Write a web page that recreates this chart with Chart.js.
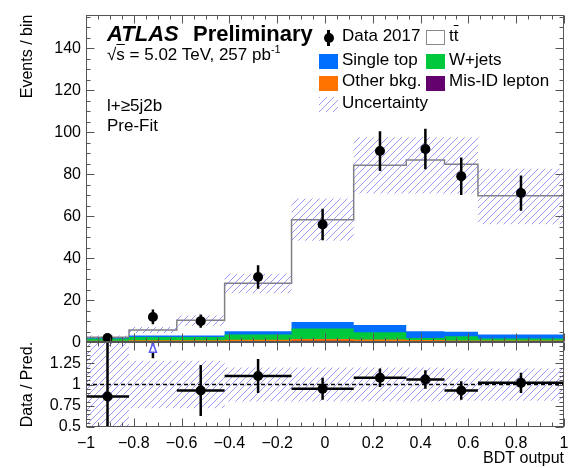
<!DOCTYPE html>
<html>
<head>
<meta charset="utf-8">
<script src="https://cdn.jsdelivr.net/npm/chart.js@4.4.1/dist/chart.umd.min.js"></script>
<style>
body { margin: 0; background: #fff; }
#wrap { position: relative; width: 569px; height: 468px; font-family: "Liberation Sans", Arial, sans-serif; color: #000; }
#wrap canvas { position: absolute; left: 0; top: 0; }
.t { position: absolute; white-space: nowrap; line-height: 1; font-size: 17px; }
.box { position: absolute; width: 19px; height: 15px; box-sizing: border-box; }
sup { font-size: 11px; line-height: 0; vertical-align: 7px; }
</style>
</head>
<body>
<div id="wrap">
  <canvas id="chart" width="569" height="468"></canvas>

  <div class="t" style="left:107px;top:23px;font-size:22px;font-weight:bold;font-style:italic;">ATLAS</div>
  <div class="t" style="left:193px;top:23px;font-size:22px;font-weight:bold;">Preliminary</div>
  <div class="t" style="left:107px;top:45.6px;">√<span style="text-decoration:overline">s</span> = 5.02 TeV, 257 pb<sup>-1</sup></div>
  <div class="t" style="left:107px;top:96.6px;">l+≥5j2b</div>
  <div class="t" style="left:107px;top:116.6px;">Pre-Fit</div>

  <!-- legend -->
  <div style="position:absolute;left:327px;top:30px;width:2.5px;height:16px;background:#000;"></div>
  <div style="position:absolute;left:323.5px;top:33px;width:10px;height:10px;border-radius:5px;background:#000;"></div>
  <div class="t" style="left:342px;top:27.3px;">Data 2017</div>
  <div class="box" style="left:426px;top:29.5px;border:1px solid #888;background:#fff;"></div>
  <div class="t" style="left:449px;top:27.3px;">t<span style="text-decoration:overline">t</span></div>

  <div class="box" style="left:319px;top:54px;background:#006eff;"></div>
  <div class="t" style="left:342px;top:50.6px;">Single top</div>
  <div class="box" style="left:426px;top:54px;background:#00c83c;"></div>
  <div class="t" style="left:449px;top:50.6px;">W+jets</div>

  <div class="box" style="left:319px;top:75.5px;background:#ff7300;"></div>
  <div class="t" style="left:342px;top:72.3px;">Other bkg.</div>
  <div class="box" style="left:426px;top:75.5px;background:#64006e;"></div>
  <div class="t" style="left:449px;top:72.3px;">Mis-ID lepton</div>

  <div class="box" style="left:319px;top:97px;background:repeating-linear-gradient(135deg, rgba(120,120,240,0.75) 0 1px, transparent 1px 5px);"></div>
  <div class="t" style="left:342px;top:93.6px;">Uncertainty</div>
</div>

<script>
// bin edges and centres of the BDT output
const edges = [-1, -0.82, -0.62, -0.42, -0.14, 0.12, 0.34, 0.50, 0.64, 1];
const centers = [-0.91, -0.72, -0.52, -0.28, -0.01, 0.23, 0.42, 0.57, 0.82];

// prediction per process (events / bin)
const misId = [0.4, 0.5, 0.5, 0.6, 0.7, 0.6, 0.5, 0.4, 0.4];
const otherBkg = [0.3, 0.4, 0.4, 0.5, 0.8, 0.7, 0.5, 0.4, 0.4];
const wJets = [1.0, 1.5, 1.5, 2.5, 5.0, 3.4, 1.0, 2.0, 0.95];
const singleTop = [0.3, 0.8, 0.8, 1.6, 3.1, 3.5, 3.2, 2.1, 1.85];
const ttbar = [0.3, 2.6, 7.2, 22.8, 48.7, 76.0, 81.5, 79.8, 66.1];

// uncertainty band on the prediction
const bandHi = [3.2, 7.2, 12.7, 32.6, 68.4, 97.6, 97.6, 97.6, 82.6];
const bandLo = [1.3, 4.4, 7.8, 23.3, 48.3, 70.8, 70.8, 70.8, 56.2];

// data
const data2017 = [2, 12, 10, 31, 56, 91, 92, 79, 71];
const dataErr = [1.4, 3.5, 3.2, 5.6, 7.5, 9.5, 9.6, 8.9, 8.4];

// ratio panel
const ratio = [0.86, 2.07, 0.93, 1.10, 0.95, 1.08, 1.06, 0.93, 1.02];
const ratioErr = [0.7, 0.76, 0.30, 0.20, 0.13, 0.11, 0.11, 0.11, 0.12];
const ratioUnc = [0.5, 0.28, 0.28, 0.2, 0.2, 0.2, 0.2, 0.19, 0.19];

const yMax = 156, rMin = 0.5, rMax = 1.5;

Chart.defaults.font.family = '"Liberation Sans", Arial, sans-serif';
Chart.defaults.color = '#000';

function step(vals) {
    return edges.map((e, i) => ({x: e, y: vals[Math.min(i, vals.length - 1)]}));
}
function addUp(...arrs) {
    return arrs[0].map((_, i) => arrs.reduce((s, a) => s + a[i], 0));
}
function hatch() {
    const c = document.createElement('canvas');
    c.width = 7; c.height = 7;
    const g = c.getContext('2d');
    g.strokeStyle = 'rgba(120,120,240,0.75)';
    g.lineWidth = 1;
    g.beginPath();
    g.moveTo(-1, 8); g.lineTo(8, -1);
    g.moveTo(-1, 1); g.lineTo(1, -1);
    g.moveTo(6, 8); g.lineTo(8, 6);
    g.stroke();
    return g.createPattern(c, 'repeat');
}

const cMis = misId;
const cOther = addUp(misId, otherBkg);
const cW = addUp(misId, otherBkg, wJets);
const cSt = addUp(misId, otherBkg, wJets, singleTop);
const cTot = addUp(misId, otherBkg, wJets, singleTop, ttbar);

const pattern = hatch();
const area = (vals, color, order) => ({
    data: step(vals), yAxisID: 'y', stepped: 'before', fill: 'origin',
    backgroundColor: color, borderColor: 'transparent', borderWidth: 0,
    pointRadius: 0, order: order
});

const datasets = [
    // 0: total (ttbar on top) with grey outline
    {data: step(cTot), yAxisID: 'y', stepped: 'before', fill: 'origin',
     backgroundColor: '#fff', borderColor: '#808080', borderWidth: 1.5, pointRadius: 0, order: 20},
    area(cSt, '#006eff', 19),
    area(cW, '#00c83c', 18),
    area(cOther, '#ff7300', 17),
    area(cMis, '#64006e', 16),
    // 5,6: uncertainty band
    {data: step(bandLo), yAxisID: 'y', stepped: 'before', fill: false,
     borderWidth: 0, borderColor: 'transparent', pointRadius: 0, order: 10},
    {data: step(bandHi), yAxisID: 'y', stepped: 'before', fill: 5,
     backgroundColor: pattern, borderWidth: 0, borderColor: 'transparent', pointRadius: 0, order: 9},
    // 7: data points
    {data: centers.map((c, i) => ({x: c, y: data2017[i]})), yAxisID: 'y', showLine: false,
     pointRadius: 5, pointBackgroundColor: '#000', pointBorderWidth: 0, order: 0},
    // 8,9: ratio band
    {data: step(ratioUnc.map(u => 1 - u)), yAxisID: 'yr', stepped: 'before', fill: false,
     borderWidth: 0, borderColor: 'transparent', pointRadius: 0, order: 10},
    {data: step(ratioUnc.map(u => 1 + u)), yAxisID: 'yr', stepped: 'before', fill: 8,
     backgroundColor: pattern, borderWidth: 0, borderColor: 'transparent', pointRadius: 0, order: 9},
    // 10: unity line
    {data: [{x: -1, y: 1}, {x: 1, y: 1}], yAxisID: 'yr', borderColor: '#000', borderWidth: 1.5,
     borderDash: [4, 3], pointRadius: 0, fill: false, order: 5},
    // 11: ratio points (only those inside the panel)
    {data: centers.map((c, i) => ({x: c, y: ratio[i] <= rMax ? ratio[i] : null})), yAxisID: 'yr',
     showLine: false, pointRadius: 5, pointBackgroundColor: '#000', pointBorderWidth: 0, order: 0}
];

const errorBars = {
    id: 'errorBars',
    afterDatasetsDraw(chart) {
        const {ctx} = chart;
        const x = chart.scales.x;
        const draw = (sc, vals, errs, withX) => {
            ctx.save();
            ctx.beginPath();
            ctx.rect(x.left, sc.top, x.right - x.left, sc.bottom - sc.top);
            ctx.clip();
            ctx.strokeStyle = '#000';
            ctx.lineWidth = 2.5;
            vals.forEach((v, i) => {
                const px = x.getPixelForValue(centers[i]);
                ctx.beginPath();
                ctx.moveTo(px, sc.getPixelForValue(v - errs[i]));
                ctx.lineTo(px, sc.getPixelForValue(v + errs[i]));
                if (withX) {
                    const py = sc.getPixelForValue(v);
                    ctx.moveTo(x.getPixelForValue(edges[i]), py);
                    ctx.lineTo(x.getPixelForValue(edges[i + 1]), py);
                }
                ctx.stroke();
            });
            ctx.restore();
        };
        draw(chart.scales.y, data2017, dataErr, false);
        draw(chart.scales.yr, ratio, ratioErr, true);

        // arrows for ratio points above the panel
        const yr = chart.scales.yr;
        ratio.forEach((v, i) => {
            if (v <= rMax) return;
            const px = x.getPixelForValue(centers[i]);
            const top = yr.top + 1;
            ctx.save();
            ctx.beginPath();
            ctx.moveTo(px, top);
            ctx.lineTo(px - 3.5, top + 9);
            ctx.lineTo(px + 3.5, top + 9);
            ctx.closePath();
            ctx.fillStyle = '#fff';
            ctx.fill();
            ctx.strokeStyle = '#5a5af0';
            ctx.lineWidth = 1.5;
            ctx.stroke();
            ctx.restore();
        });
    }
};

const frame = {
    id: 'frame',
    afterDraw(chart) {
        const {ctx} = chart;
        const x = chart.scales.x;
        const L = Math.round(x.left) + 0.5, R = Math.round(x.right) - 0.5;
        ctx.save();
        ctx.strokeStyle = '#555';
        ctx.lineWidth = 1;
        const panel = (sc, lo, hi, minor, every) => {
            const T = Math.round(sc.top) + 0.5, B = Math.round(sc.bottom) - 0.5;
            ctx.strokeRect(L, T, R - L, B - T);
            ctx.beginPath();
            const n = Math.floor((hi - lo) / minor + 1e-6);
            for (let k = 0; k <= n; k++) {
                const py = Math.round(sc.getPixelForValue(lo + k * minor)) + 0.5;
                const len = k % every === 0 ? 8 : 4;
                ctx.moveTo(L, py); ctx.lineTo(L + len, py);
                ctx.moveTo(R, py); ctx.lineTo(R - len, py);
            }
            for (let k = 0; k <= 40; k++) {
                const px = Math.round(x.getPixelForValue(-1 + k * 0.05)) + 0.5;
                const len = k % 4 === 0 ? 8 : 4;
                ctx.moveTo(px, T); ctx.lineTo(px, T + len);
                ctx.moveTo(px, B); ctx.lineTo(px, B - len);
            }
            ctx.stroke();
        };
        panel(chart.scales.y, 0, yMax, 5, 4);
        panel(chart.scales.yr, rMin, rMax, 0.05, 5);
        ctx.restore();
    }
};

new Chart(document.getElementById('chart'), {
    type: 'line',
    data: {datasets: datasets},
    options: {
        responsive: false,
        animation: false,
        devicePixelRatio: 1,
        layout: {padding: {top: 13, right: 4, left: 0, bottom: 0}},
        plugins: {legend: {display: false}, tooltip: {enabled: false}},
        scales: {
            x: {
                type: 'linear', position: 'bottom', min: -1, max: 1,
                grid: {display: false, drawTicks: false}, border: {display: false},
                ticks: {
                    stepSize: 0.2, padding: 7, autoSkip: false, maxRotation: 0,
                    font: {size: 16},
                    callback: v => {
                        const r = +v.toFixed(1);
                        return r === 0 ? '0' : (r < 0 ? '\u2212' : '') + Math.abs(r);
                    }
                },
                title: {display: true, text: 'BDT output', align: 'end', font: {size: 16}, padding: {top: 0, bottom: 0}},
                afterFit: s => { s.height = 41; s.paddingLeft = 0; s.paddingRight = 0; }
            },
            y: {
                type: 'linear', position: 'left', stack: 'v', stackWeight: 3.86, weight: 1,
                min: 0, max: yMax,
                grid: {display: false, drawTicks: false}, border: {display: false},
                ticks: {stepSize: 20, padding: 5, autoSkip: false, font: {size: 16}},
                afterBuildTicks: s => { s.ticks = s.ticks.filter(t => t.value % 20 === 0); },
                title: {display: true, text: 'Events / bin', align: 'end', font: {size: 16}, padding: {top: 18, bottom: 0}},
                afterFit: s => { s.width = 86; }
            },
            yr: {
                type: 'linear', position: 'left', stack: 'v', stackWeight: 1, weight: 0,
                min: rMin, max: rMax,
                grid: {display: false, drawTicks: false}, border: {display: false},
                ticks: {stepSize: 0.25, padding: 5, autoSkip: false, font: {size: 16}, callback: v => String(+v.toFixed(2))},
                afterBuildTicks: s => { s.ticks = s.ticks.filter(t => t.value < rMax - 1e-6); },
                title: {display: true, text: 'Data / Pred.', align: 'center', font: {size: 16}, padding: {top: 18, bottom: 0}},
                afterFit: s => { s.width = 86; }
            }
        }
    },
    plugins: [errorBars, frame]
});
</script>
</body>
</html>
